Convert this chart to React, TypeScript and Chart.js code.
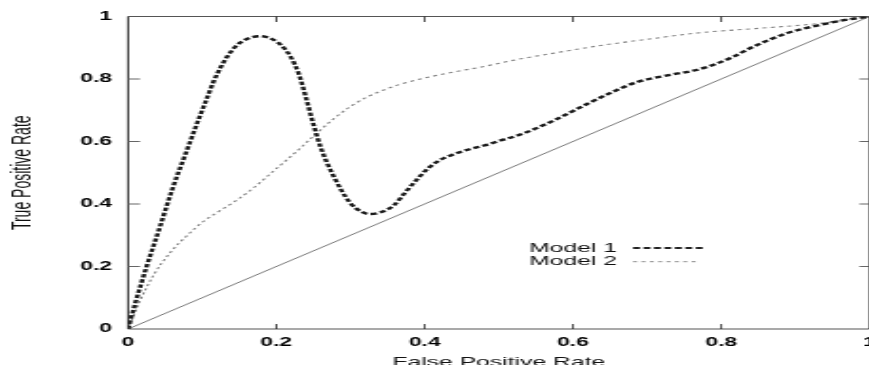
import { useEffect, useRef } from 'react';
import { Chart, registerables } from 'chart.js';

Chart.register(...registerables);

// ---- data ----
const seriesNames = ['Model 1', 'Model 2'];
const xTitle = 'False Positive Rate';
const yTitle = 'True Positive Rate';

const model1X = [0, 0.01, 0.025, 0.043, 0.06, 0.079, 0.095, 0.105, 0.115, 0.125, 0.135, 0.145, 0.155, 0.165, 0.177, 0.19, 0.2, 0.21, 0.22, 0.23, 0.24, 0.25, 0.26, 0.277, 0.299, 0.315, 0.326, 0.34, 0.358, 0.375, 0.389, 0.405, 0.421, 0.44, 0.457, 0.48, 0.502, 0.53, 0.574, 0.619, 0.655, 0.686, 0.731, 0.765, 0.789, 0.815, 0.843, 0.888, 0.933, 0.97, 1];
const model1Y = [0, 0.085, 0.2, 0.327, 0.45, 0.57, 0.67, 0.73, 0.79, 0.838, 0.876, 0.904, 0.922, 0.932, 0.937, 0.932, 0.92, 0.9, 0.868, 0.818, 0.74, 0.655, 0.58, 0.49, 0.405, 0.375, 0.368, 0.373, 0.395, 0.44, 0.477, 0.515, 0.541, 0.56, 0.573, 0.587, 0.603, 0.623, 0.667, 0.72, 0.76, 0.79, 0.813, 0.828, 0.845, 0.87, 0.903, 0.946, 0.973, 0.99, 1];

const model2X = [0, 0.016, 0.035, 0.057, 0.08, 0.102, 0.125, 0.147, 0.17, 0.191, 0.21, 0.232, 0.25, 0.277, 0.3, 0.322, 0.345, 0.367, 0.4, 0.434, 0.48, 0.524, 0.58, 0.637, 0.7, 0.771, 0.85, 0.933, 1];
const model2Y = [0, 0.09, 0.175, 0.245, 0.3, 0.345, 0.38, 0.413, 0.453, 0.495, 0.533, 0.578, 0.617, 0.672, 0.712, 0.742, 0.765, 0.783, 0.803, 0.82, 0.84, 0.862, 0.885, 0.907, 0.927, 0.948, 0.962, 0.978, 1];

const diagX = [0, 1];
const diagY = [0, 1];

const xTicks = [0, 0.2, 0.4, 0.6, 0.8, 1];
const yTicks = [0, 0.2, 0.4, 0.6, 0.8, 1];

// ---- layout ----
const STRETCH = 1.9;
const INNER_W = 470;
const H = 365;
const FONT = '"Liberation Sans", Arial, Helvetica, sans-serif';
const NARROW = '"Liberation Sans Narrow", "Arial Narrow", "Liberation Sans", sans-serif';

const toPts = (xs: number[], ys: number[]) => xs.map((x, i) => ({ x, y: ys[i] }));

const fmt = (v: number) => (v === 0 || v === 1 ? String(v) : v.toFixed(1));

const framePlugin = {
  id: 'frame',
  beforeDatasetsDraw(chart: any) {
    const { ctx, chartArea: ca, scales } = chart;
    ctx.save();
    ctx.strokeStyle = '#555';
    ctx.lineWidth = 1.1;
    ctx.beginPath();
    ctx.moveTo(ca.left, ca.top);
    ctx.lineTo(ca.right, ca.top);
    ctx.moveTo(ca.left, ca.bottom);
    ctx.lineTo(ca.right, ca.bottom);
    ctx.stroke();
    ctx.strokeStyle = '#111';
    ctx.lineWidth = 0.9;
    ctx.beginPath();
    ctx.moveTo(ca.left, ca.top);
    ctx.lineTo(ca.left, ca.bottom);
    ctx.moveTo(ca.right, ca.top);
    ctx.lineTo(ca.right, ca.bottom);
    ctx.stroke();
    ctx.strokeStyle = '#222';
    ctx.lineWidth = 0.8;
    ctx.beginPath();
    xTicks.forEach((v) => {
      if (v === 0 || v === 1) return;
      const px = scales.x.getPixelForValue(v);
      ctx.moveTo(px, ca.bottom);
      ctx.lineTo(px, ca.bottom - 5);
      ctx.moveTo(px, ca.top);
      ctx.lineTo(px, ca.top + 5.5);
    });
    ctx.stroke();
    ctx.strokeStyle = '#666';
    ctx.lineWidth = 1.1;
    ctx.beginPath();
    yTicks.forEach((v) => {
      if (v === 0 || v === 1) return;
      const py = scales.y.getPixelForValue(v);
      ctx.moveTo(ca.left, py);
      ctx.lineTo(ca.left + 6.3, py);
      ctx.moveTo(ca.right, py);
      ctx.lineTo(ca.right - 5.3, py);
    });
    ctx.stroke();
    ctx.restore();
  },
};

const legendPlugin = {
  id: 'innerLegend',
  afterDraw(chart: any) {
    const { ctx, chartArea: ca } = chart;
    const textRight = ca.left + 257.3;
    const sampleL = ca.left + 265.8;
    const rows = [
      { y: ca.top + 231.5, end: ca.left + 304.2, dash: [3.6, 1.9], width: 1.8, color: '#222' },
      { y: ca.top + 245.2, end: ca.left + 300.5, dash: [2.1, 2.3], width: 1.0, color: '#888' },
    ];
    ctx.save();
    ctx.font = `13px ${FONT}`;
    ctx.textAlign = 'right';
    ctx.textBaseline = 'middle';
    rows.forEach((r, i) => {
      ctx.fillStyle = '#111';
      ctx.fillText(seriesNames[i], textRight, r.y);
      ctx.strokeStyle = r.color;
      ctx.lineWidth = r.width;
      ctx.setLineDash(r.dash);
      ctx.beginPath();
      ctx.moveTo(sampleL, r.y);
      ctx.lineTo(r.end, r.y);
      ctx.stroke();
    });
    ctx.restore();
  },
};

export default function App() {
  const ref = useRef<HTMLCanvasElement | null>(null);

  useEffect(() => {
    if (!ref.current) return;
    const chart = new Chart(ref.current, {
      type: 'line',
      data: {
        datasets: [
          {
            label: seriesNames[0],
            data: toPts(model1X, model1Y),
            borderColor: '#1a1a1a',
            borderWidth: 2.4,
            borderDash: [3.4, 1.8],
            pointRadius: 0,
            cubicInterpolationMode: 'monotone',
            fill: false,
          },
          {
            label: seriesNames[1],
            data: toPts(model2X, model2Y),
            borderColor: '#808080',
            borderWidth: 1.1,
            borderDash: [2.1, 2.3],
            pointRadius: 0,
            cubicInterpolationMode: 'monotone',
            fill: false,
          },
          {
            label: 'diagonal',
            data: toPts(diagX, diagY),
            borderColor: '#7a7a7a',
            borderWidth: 1,
            pointRadius: 0,
            tension: 0,
            fill: false,
          },
        ],
      },
      options: {
        animation: false,
        responsive: true,
        maintainAspectRatio: false,
        layout: { padding: { top: 16.5, right: 12.4, left: 0, bottom: 0 } },
        plugins: { legend: { display: false }, tooltip: { enabled: false } },
        scales: {
          x: {
            type: 'linear',
            min: 0,
            max: 1,
            afterBuildTicks: (s: any) => {
              s.ticks = xTicks.map((v) => ({ value: v }));
            },
            afterFit: (s: any) => {
              s.height = 36;
            },
            grid: { display: false, drawTicks: false },
            border: { display: false },
            ticks: {
              padding: 6,
              color: '#000',
              font: { family: FONT, size: 12, weight: 'bold' },
              maxRotation: 0,
              autoSkip: false,
              callback: (v: any) => fmt(Number(v)),
            },
            title: {
              display: true,
              text: xTitle,
              color: '#111',
              font: { family: FONT, size: 13 },
              padding: { top: 0, bottom: -5.5 },
            },
          },
          y: {
            type: 'linear',
            min: 0,
            max: 1,
            afterBuildTicks: (s: any) => {
              s.ticks = yTicks.map((v) => ({ value: v }));
            },
            afterFit: (s: any) => {
              s.width = 67.4;
            },
            grid: { display: false, drawTicks: false },
            border: { display: false },
            ticks: {
              padding: 8.5,
              color: '#000',
              font: { family: FONT, size: 12, weight: 'bold' },
              autoSkip: false,
              callback: (v: any) => fmt(Number(v)),
            },
            title: {
              display: true,
              text: yTitle,
              color: '#111',
              font: { family: NARROW, size: 14 },
              padding: { top: 4.2, bottom: 0 },
            },
          },
        },
      },
      plugins: [framePlugin, legendPlugin],
    } as any);
    return () => chart.destroy();
  }, []);

  return (
    <div
      style={{
        position: 'fixed',
        left: 0,
        top: 0,
        width: 869,
        height: H,
        overflow: 'hidden',
        background: '#fff',
      }}
    >
      <div
        style={{
          position: 'absolute',
          left: 0,
          top: 0,
          width: INNER_W,
          height: H,
          transform: `scaleX(${STRETCH})`,
          transformOrigin: '0 0',
        }}
      >
        <canvas ref={ref} />
      </div>
    </div>
  );
}
